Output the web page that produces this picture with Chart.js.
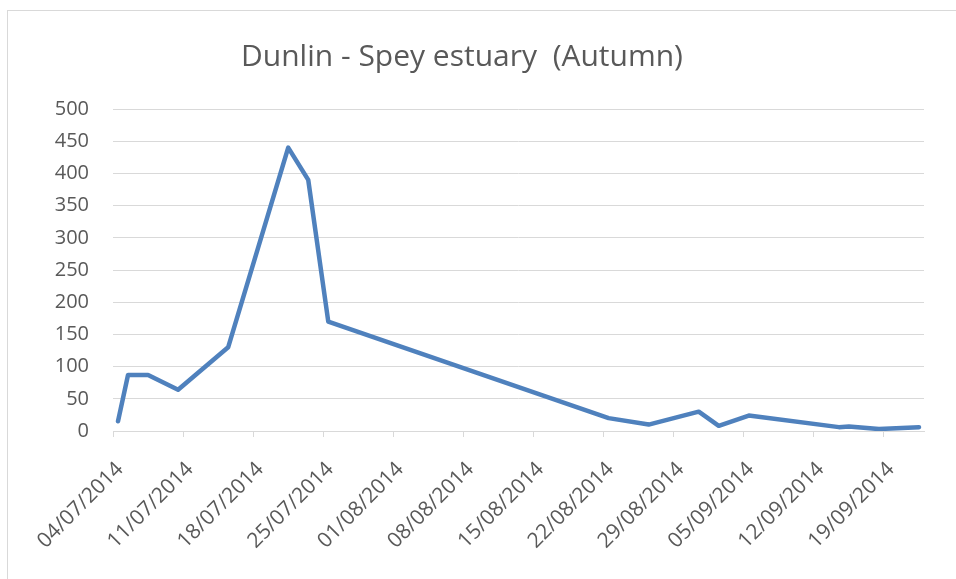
<!DOCTYPE html>
<html>
<head>
<meta charset="utf-8">
<script src="https://cdn.jsdelivr.net/npm/chart.js@4.4.1/dist/chart.umd.min.js"></script>
<style>
  html, body { margin: 0; padding: 0; background: #ffffff; }
  #wrap { width: 956px; height: 579px; }
</style>
</head>
<body>
<div id="wrap"><canvas id="c" width="956" height="579"></canvas></div>
<script>
// ---- Data ----
const chartTitle = 'Dunlin - Spey estuary  (Autumn)';
const countDates = ['04/07/2014','05/07/2014','07/07/2014','10/07/2014','15/07/2014','21/07/2014','23/07/2014','25/07/2014',
                    '22/08/2014','26/08/2014','31/08/2014','02/09/2014','05/09/2014','14/09/2014','15/09/2014','18/09/2014','22/09/2014'];
const dunlinCounts = [15, 87, 87, 64, 130, 440, 390, 170, 20, 10, 30, 8, 24, 6, 7, 3, 6];
const xTickLabels = ['04/07/2014','11/07/2014','18/07/2014','25/07/2014','01/08/2014','08/08/2014','15/08/2014',
                     '22/08/2014','29/08/2014','05/09/2014','12/09/2014','19/09/2014'];
const axisStartDate = '04/07/2014';
const axisEndDate = '23/09/2014';
const yTickValues = [0, 50, 100, 150, 200, 250, 300, 350, 400, 450, 500];

// ---- helpers ----
function toDay(s) {
  const [d, m, y] = s.split('/').map(Number);
  return Date.UTC(y, m - 1, d) / 86400000;
}
const day0 = toDay(axisStartDate);
const dayIndex = s => toDay(s) - day0;
// each count is plotted at the middle of its day (date axis style)
const points = countDates.map((s, i) => ({ x: dayIndex(s) + 0.5, y: dunlinCounts[i] }));

const textColor = '#595959';
const gridColor = '#d9d9d9';
const fontFamily = '"Open Sans", "Liberation Sans", sans-serif';

const borderPlugin = {
  id: 'outerBorder',
  beforeDraw(chart) {
    const ctx = chart.ctx;
    ctx.save();
    ctx.fillStyle = '#ffffff';
    ctx.fillRect(0, 0, chart.width, chart.height);
    ctx.strokeStyle = gridColor;
    ctx.lineWidth = 1;
    ctx.strokeRect(7.5, 10.5, chart.width + 20, chart.height + 20);
    ctx.restore();
  }
};

new Chart(document.getElementById('c'), {
  type: 'line',
  data: {
    datasets: [{
      label: 'Dunlin',
      data: points,
      borderColor: '#4f81bd',
      backgroundColor: '#4f81bd',
      borderWidth: 4.5,
      pointRadius: 0,
      tension: 0,
      borderJoinStyle: 'round',
      borderCapStyle: 'round',
      fill: false
    }]
  },
  options: {
    responsive: false,
    animation: false,
    devicePixelRatio: 1,
    layout: { padding: { left: 0, right: 32, top: 0, bottom: 0 } },
    plugins: {
      legend: { display: false },
      tooltip: { enabled: false },
      title: {
        display: true,
        text: chartTitle,
        color: textColor,
        font: { family: fontFamily, size: 30, weight: 'normal' },
        padding: { top: 39, bottom: 34 }
      }
    },
    scales: {
      x: {
        type: 'linear',
        min: 0,
        max: dayIndex(axisEndDate),
        afterBuildTicks(scale) {
          scale.ticks = xTickLabels.map(s => ({ value: dayIndex(s) }));
        },
        afterFit(scale) { scale.height = 148; },
        border: { display: true, color: gridColor, width: 1 },
        grid: { drawOnChartArea: false, drawTicks: true, tickLength: 6, color: gridColor },
        ticks: {
          autoSkip: false,
          maxRotation: 45,
          minRotation: 45,
          padding: 20,
          labelOffset: 7,
          color: textColor,
          font: { family: fontFamily, size: 21 },
          callback(value) {
            const i = xTickLabels.findIndex(s => dayIndex(s) === value);
            return i >= 0 ? xTickLabels[i] : '';
          }
        }
      },
      y: {
        type: 'linear',
        min: 0,
        max: 500,
        afterBuildTicks(scale) {
          scale.ticks = yTickValues.map(v => ({ value: v }));
        },
        afterFit(scale) { scale.width = 113; },
        border: { display: false },
        grid: { color: gridColor, lineWidth: 1, drawTicks: false },
        ticks: {
          padding: 24,
          color: textColor,
          font: { family: fontFamily, size: 20 }
        }
      }
    }
  },
  plugins: [borderPlugin]
});
</script>
</body>
</html>
